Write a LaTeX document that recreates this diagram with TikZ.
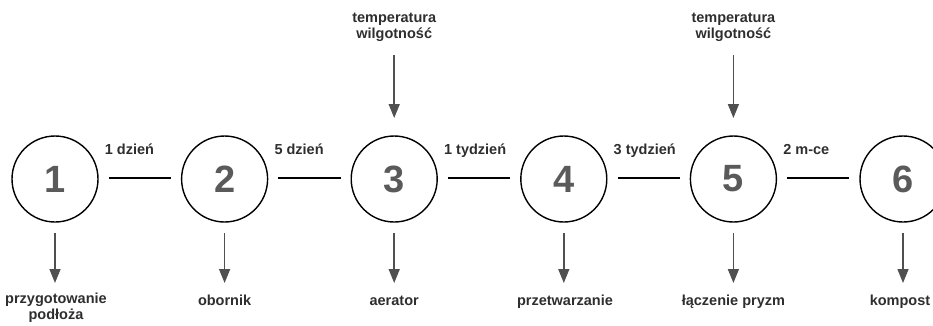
\documentclass[tikz,border=0pt]{standalone}
\usepackage{fontspec}
\setmainfont{Liberation Sans}
\usetikzlibrary{arrows.meta,calc}
\definecolor{txt}{HTML}{2E2E2E}
\definecolor{arr}{HTML}{505050}
\definecolor{dig}{HTML}{5A5A5A}
\tikzset{
  stage/.style={circle,draw=black,line width=1.4pt,minimum size=86pt,inner sep=0pt,
    font=\fontsize{38}{38}\selectfont\bfseries,text=dig},
  lbl/.style={font=\fontsize{14.5}{16}\selectfont\bfseries,text=txt,inner sep=0pt,align=center},
  link/.style={line width=1.3pt,draw=black},
  flow/.style={line width=1.5pt,draw=arr,-{Triangle[length=14pt,width=11pt]}},
}
\begin{document}
\begin{tikzpicture}[x=1pt,y=-1pt]
\useasboundingbox (0,0) rectangle (933,325);
% stages
\foreach \i/\x in {1/55,2/224.6,3/394.2,4/563.8,5/733.4,6/903}{
  \node[stage] (c\i) at (\x,179) {\i};
  \coordinate (d\i s) at (\x,233);
  \coordinate (d\i e) at (\x,283);
}
% links with time labels
\foreach \a/\b/\t in {1/2/1 dzień,2/3/5 dzień,3/4/1 tydzień,4/5/3 tydzień,5/6/2 m-ce}{
  \coordinate (l\a s) at ($(c\a.east)+(10,-1)$);
  \coordinate (l\a e) at ($(c\b.west)+(-10,-1)$);
  \draw[link] (l\a s) -- (l\a e);
  \node[lbl,anchor=base west] (t\a) at ($(l\a s)+(-4,-24)$) {\t};
}
% outputs
\node[lbl,anchor=base] (o1) at (56,319) {przygotowanie\\podłoża};
\node[lbl,anchor=base] (o2) at (224.6,305) {obornik};
\node[lbl,anchor=base] (o3) at (394.2,305) {aerator};
\node[lbl,anchor=base] (o4) at (565,305) {przetwarzanie};
\node[lbl,anchor=base] (o5) at (733.4,305) {łączenie pryzm};
\node[lbl,anchor=base] (o6) at (900,305) {kompost};
\foreach \i in {1,...,6}{\draw[flow] (d\i s) -- (d\i e);}
% inputs
\foreach \i in {3,5}{
  \node[lbl,anchor=base] (in\i) at ($(c\i)+(0,-141)$) {temperatura\\wilgotność};
  \coordinate (u\i s) at ($(c\i)+(0,-124)$);
  \coordinate (u\i e) at ($(c\i)+(0,-61)$);
  \draw[flow] (u\i s) -- (u\i e);
}
\end{tikzpicture}
\end{document}
